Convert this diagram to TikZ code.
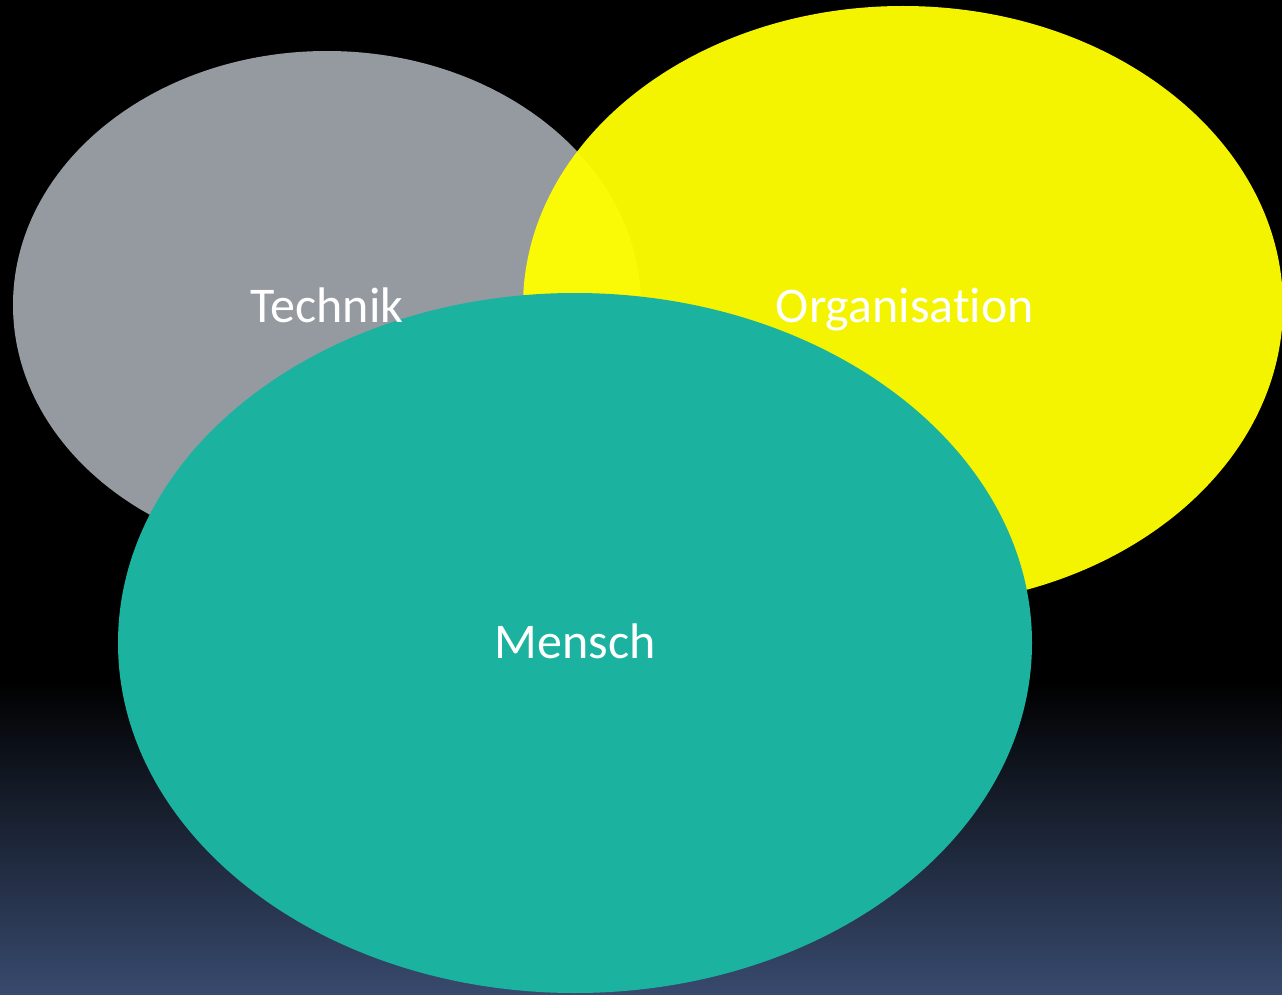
\documentclass[tikz,border=0pt]{standalone}
\usepackage{fontspec}
\setmainfont{Carlito}[RawFeature=-liga]
\usetikzlibrary{shapes.geometric}
\definecolor{techgray}{HTML}{959AA0}
\definecolor{orgyellow}{HTML}{FFFF00}
\definecolor{menschteal}{HTML}{1BB3A0}
\definecolor{bgbottom}{HTML}{384A6E}
\tikzset{
  blob/.style={ellipse, draw=none, inner sep=0pt},
  lbl/.style={text=white, font=\fontsize{50}{60}\selectfont, anchor=base, inner sep=0pt}
}
\begin{document}
\begin{tikzpicture}[x=1pt,y=-1pt]
  \useasboundingbox (0,0) rectangle (1282,995);
  \fill[black] (0,0) rectangle (1282,995);
  \shade[top color=black, bottom color=bgbottom] (0,680) rectangle (1282,995);
  \node[blob, fill=techgray, minimum width=628pt, minimum height=508pt] (technik) at (327,305) {};
  \node[blob, fill=orgyellow, fill opacity=0.957, minimum width=760pt, minimum height=600pt] (organisation) at (903,306) {};
  \node[blob, fill=menschteal, minimum width=914pt, minimum height=700pt] (mensch) at (575,643) {};
  \node[lbl] (ttech) at (327,322) {Technik};
  \node[lbl] (torg) at (905,322) {Organisation};
  \node[lbl] (tmen) at (575,658) {Mensch};
\end{tikzpicture}
\end{document}
